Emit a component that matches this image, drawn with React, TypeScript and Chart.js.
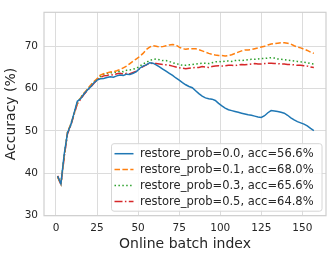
import React, { useEffect, useRef } from "react";
import { Chart, registerables } from "chart.js";

Chart.register(...registerables);

const batchIndex = [
  1, 3, 5, 7, 9, 11, 13, 15, 17, 19, 21, 23, 25, 27, 29, 31, 33, 35, 37, 39,
  41, 43, 45, 47, 49, 51, 53, 55, 57, 59, 61, 63, 65, 67, 69, 71, 73, 75, 77, 79,
  81, 83, 85, 87, 89, 91, 93, 95, 97, 99, 101, 103, 105, 107, 109, 111, 113, 115, 117, 119,
  121, 123, 125, 127, 129, 131, 133, 135, 137, 139, 141, 143, 145, 147, 149, 151, 153, 155, 157,
];

const accProb00 = [
  39.3, 37.5, 44.5, 49.5, 51.4, 54.2, 57.0, 57.6, 58.7, 59.6, 60.4, 61.3, 62.0, 62.3, 62.4, 62.6, 62.8, 62.7, 63.0, 63.2,
  63.1, 63.4, 63.3, 63.6, 64.0, 64.8, 65.3, 65.6, 66.1, 66.0, 65.6, 65.1, 64.6, 64.1, 63.6, 63.1, 62.5, 62.0, 61.4, 60.9,
  60.5, 60.2, 59.5, 58.8, 58.2, 57.8, 57.6, 57.5, 57.2, 56.5, 55.9, 55.4, 55.0, 54.8, 54.6, 54.4, 54.2, 54.0, 53.8, 53.7,
  53.5, 53.3, 53.2, 53.6, 54.3, 54.8, 54.7, 54.6, 54.4, 54.2, 53.7, 53.1, 52.6, 52.2, 51.9, 51.6, 51.2, 50.6, 50.1,
];

const accProb01 = [
  39.1, 37.4, 44.0, 49.8, 51.5, 54.0, 56.6, 57.8, 58.9, 59.8, 60.8, 61.6, 62.3, 63.2, 63.5, 63.7, 63.9, 64.0, 64.2, 64.5,
  64.9, 65.3, 65.9, 66.5, 67.0, 67.6, 68.3, 69.2, 69.8, 70.1, 70.0, 69.8, 69.9, 70.1, 70.3, 70.4, 70.3, 69.8, 69.4, 69.3,
  69.4, 69.4, 69.4, 69.2, 68.9, 68.6, 68.3, 68.1, 67.9, 67.8, 67.8, 67.7, 67.8, 68.0, 68.3, 68.6, 68.9, 69.1, 69.1, 69.2,
  69.4, 69.6, 69.8, 70.0, 70.3, 70.5, 70.6, 70.7, 70.8, 70.8, 70.7, 70.5, 70.1, 69.8, 69.6, 69.3, 69.0, 68.6, 68.3,
];

const accProb03 = [
  39.2, 37.6, 44.2, 49.6, 51.6, 54.1, 56.7, 57.9, 58.8, 59.7, 60.6, 61.5, 62.2, 62.8, 63.4, 63.6, 63.7, 63.8, 63.9, 64.1,
  64.0, 64.3, 64.4, 64.6, 64.8, 65.3, 65.8, 66.2, 66.6, 66.9, 67.0, 66.8, 66.6, 66.6, 66.4, 66.1, 65.9, 65.7, 65.5, 65.5,
  65.6, 65.7, 65.8, 65.9, 66.0, 66.0, 65.9, 66.1, 66.3, 66.4, 66.3, 66.5, 66.5, 66.4, 66.6, 66.7, 66.6, 66.7, 66.8, 66.9,
  66.9, 67.0, 67.1, 67.1, 67.2, 67.3, 67.2, 67.0, 66.9, 66.8, 66.7, 66.6, 66.5, 66.4, 66.3, 66.2, 66.1, 65.9, 65.8,
];

const accProb05 = [
  39.4, 37.3, 43.8, 49.3, 51.2, 53.9, 56.4, 57.5, 58.6, 59.5, 60.3, 61.2, 62.0, 62.6, 63.0, 63.1, 63.3, 63.2, 63.5, 63.6,
  63.4, 63.6, 63.5, 63.8, 64.1, 64.7, 65.2, 65.6, 66.0, 65.9, 65.9, 65.8, 65.7, 65.6, 65.5, 65.3, 65.1, 64.9, 64.8, 64.7,
  64.8, 64.9, 65.0, 65.0, 65.2, 65.1, 65.0, 65.2, 65.3, 65.4, 65.3, 65.4, 65.5, 65.5, 65.4, 65.6, 65.7, 65.6, 65.7, 65.8,
  65.9, 65.8, 65.8, 65.9, 66.0, 66.0, 65.9, 65.9, 65.8, 65.8, 65.7, 65.7, 65.6, 65.5, 65.5, 65.4, 65.3, 65.1, 65.0,
];

const seriesLabels = [
  "restore_prob=0.0, acc=56.6%",
  "restore_prob=0.1, acc=68.0%",
  "restore_prob=0.3, acc=65.6%",
  "restore_prob=0.5, acc=64.8%",
];

const xTicks = [0, 25, 50, 75, 100, 125, 150];
const yTicks = [30, 40, 50, 60, 70];

const COLORS = ["#1f77b4", "#ff7f0e", "#2ca02c", "#d62728"];
const DASHES: number[][] = [[], [5.5, 2.4], [1.5, 2.4], [8, 2.4, 1.5, 2.4]];
const FONT = '"DejaVu Sans", sans-serif';
const TEXT = "#262626";
const GRID = "#dcdcdc";

const framePlugin = {
  id: "frame",
  afterDatasetsDraw(chart: any) {
    const { ctx, chartArea: a } = chart;
    ctx.save();
    ctx.strokeStyle = "#cfcfcf";
    ctx.lineWidth = 1.2;
    ctx.strokeRect(a.left, a.top, a.right - a.left, a.bottom - a.top);
    ctx.restore();
  },
};

const legendPlugin = {
  id: "boxLegend",
  afterDraw(chart: any) {
    const { ctx, chartArea: a } = chart;
    const w = 210.5;
    const h = 67.5;
    const x0 = a.right - 4 - w;
    const y0 = a.bottom - 4.5 - h;
    ctx.save();
    ctx.beginPath();
    ctx.roundRect(x0, y0, w, h, 2.5);
    ctx.fillStyle = "rgba(255,255,255,0.85)";
    ctx.fill();
    ctx.strokeStyle = "#d6d6d6";
    ctx.lineWidth = 1;
    ctx.stroke();
    chart.data.datasets.forEach((ds: any, i: number) => {
      const cy = y0 + 10 + i * 15.9;
      ctx.beginPath();
      ctx.setLineDash(DASHES[i]);
      ctx.strokeStyle = ds.borderColor;
      ctx.lineWidth = 1.5;
      ctx.moveTo(x0 + 3, cy);
      ctx.lineTo(x0 + 22, cy);
      ctx.stroke();
      ctx.setLineDash([]);
      ctx.fillStyle = TEXT;
      ctx.font = `11.5px ${FONT}`;
      ctx.textBaseline = "middle";
      ctx.textAlign = "left";
      ctx.fillText(ds.label, x0 + 28.5, cy + 0.5);
    });
    ctx.restore();
  },
};

export default function App() {
  const ref = useRef<HTMLCanvasElement | null>(null);

  useEffect(() => {
    if (!ref.current) return;
    const series = [accProb00, accProb01, accProb03, accProb05];
    const chart = new Chart(ref.current, {
      type: "line",
      data: {
        datasets: series.map((vals, i) => ({
          label: seriesLabels[i],
          data: vals.map((v, j) => ({ x: batchIndex[j], y: v })),
          borderColor: COLORS[i],
          backgroundColor: COLORS[i],
          borderWidth: 1.5,
          borderDash: DASHES[i],
          pointRadius: 0,
          tension: 0,
          fill: false,
        })),
      },
      options: {
        animation: false,
        responsive: true,
        maintainAspectRatio: false,
        layout: { padding: { left: 0, top: 5, right: 6, bottom: 0 } },
        plugins: { legend: { display: false }, tooltip: { enabled: false } },
        scales: {
          x: {
            type: "linear",
            min: -7.3,
            max: 164.4,
            afterBuildTicks: (s: any) => {
              s.ticks = xTicks.map((v) => ({ value: v }));
            },
            afterFit: (s: any) => {
              s.height = 41.3;
            },
            grid: { color: GRID, lineWidth: 1, drawTicks: false },
            border: { display: false },
            ticks: { color: TEXT, font: { family: FONT, size: 10.5 }, padding: 6, maxRotation: 0 },
            title: {
              display: true,
              text: "Online batch index",
              color: TEXT,
              font: { family: FONT, size: 14 },
              padding: { top: 0, bottom: 4 },
            },
          },
          y: {
            type: "linear",
            min: 30,
            max: 78,
            afterBuildTicks: (s: any) => {
              s.ticks = yTicks.map((v) => ({ value: v }));
            },
            afterFit: (s: any) => {
              s.width = 44;
            },
            grid: { color: GRID, lineWidth: 1, drawTicks: false },
            border: { display: false },
            ticks: { color: TEXT, font: { family: FONT, size: 10.5 }, padding: 6 },
            title: {
              display: true,
              text: "Accuracy (%)",
              color: TEXT,
              font: { family: FONT, size: 14 },
              padding: { top: 3, bottom: 0 },
            },
          },
        },
      },
      plugins: [framePlugin, legendPlugin],
    });
    return () => chart.destroy();
  }, []);

  return (
    <div style={{ position: "absolute", left: 0, top: 0, width: 332, height: 257 }}>
      <canvas ref={ref} />
    </div>
  );
}
